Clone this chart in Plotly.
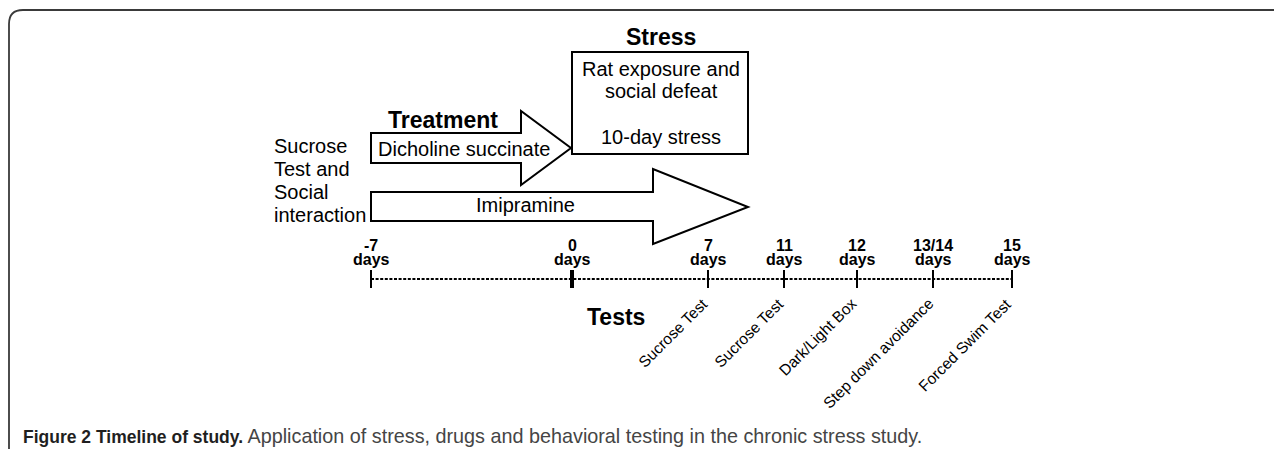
import plotly.graph_objects as go

# ---------------- data (text content) ----------------
tick_numbers = ["-7", "0", "7", "11", "12", "13/14", "15"]
tick_unit = "days"
test_names = ["Sucrose Test", "Sucrose Test", "Dark/Light Box", "Step down avoidance", "Forced Swim Test"]
test_tick_index = [2, 3, 4, 5, 6]
baseline_lines = ["Sucrose", "Test and", "Social", "interaction"]
stress_title = "Stress"
stress_lines = ["Rat exposure and", "social defeat", "10-day stress"]
treatment_title = "Treatment"
drug_short = "Dicholine succinate"
drug_long = "Imipramine"
tests_title = "Tests"
caption_bold = "Figure 2 Timeline of study."
caption_rest = "Application of stress, drugs and behavioral testing in the chronic stress study."

# ---------------- layout (positions in screen pixels) ----------------
W, H = 1282, 449
OFF = 8  # default page margin around the plot div
tick_x = [371, 572, 708, 784, 857, 933, 1012]
line_y = 279
FONT = "Liberation Sans, Arial, sans-serif"

fig = go.Figure()
fig.add_trace(go.Scatter(x=[OFF, W], y=[OFF, H], mode="markers",
                         marker=dict(opacity=0), hoverinfo="skip", showlegend=False))

shapes = []
ann = []

# frame
shapes.append(dict(type="path", path=f"M 9 {H+5} L 9 24 Q 9 10 23 10 L {W+5} 10",
                   line=dict(color="#3a3a3a", width=1.8)))

# timeline dashed line
shapes.append(dict(type="line", x0=tick_x[0], x1=tick_x[-1], y0=line_y, y1=line_y,
                   line=dict(color="black", width=2, dash="3px,1.6px")))
for i, tx in enumerate(tick_x):
    shapes.append(dict(type="line", x0=tx, x1=tx, y0=line_y - 9, y1=line_y + 9,
                       line=dict(color="black", width=4 if tick_numbers[i] == "0" else 2)))
    ann.append(dict(x=tx, y=245, text=f"<b>{tick_numbers[i]}</b>",
                    font=dict(size=16, family=FONT, color="black")))
    ann.append(dict(x=tx, y=259.5, text=f"<b>{tick_unit}</b>",
                    font=dict(size=16, family=FONT, color="black")))

# rotated test labels
for name, idx in zip(test_names, test_tick_index):
    ann.append(dict(x=tick_x[idx] + 6, y=292, text=name, textangle=-45,
                    xanchor="right", yanchor="top",
                    font=dict(size=15.5, family=FONT, color="black")))

ann.append(dict(x=616, y=317, text=f"<b>{tests_title}</b>",
                font=dict(size=23, family=FONT, color="black")))

# treatment arrow (dicholine succinate)
shapes.append(dict(type="path",
                   path="M 371 133 L 521 133 L 521 111 L 571 148 L 521 185 L 521 163 L 371 163 Z",
                   line=dict(color="black", width=2), fillcolor="white"))
# imipramine arrow
shapes.append(dict(type="path",
                   path="M 371 192 L 653 192 L 653 169 L 748 207 L 653 244 L 653 221 L 371 221 Z",
                   line=dict(color="black", width=2), fillcolor="white"))
# stress box
shapes.append(dict(type="rect", x0=572, x1=748, y0=52, y1=154,
                   line=dict(color="black", width=2), fillcolor="white"))

ann.append(dict(x=661, y=37, text=f"<b>{stress_title}</b>",
                font=dict(size=23, family=FONT, color="black")))
for txt, yy in zip(stress_lines, [69, 91, 137]):
    ann.append(dict(x=661, y=yy, text=txt, font=dict(size=20, family=FONT, color="black")))

ann.append(dict(x=386, y=120, text=f"<b>{treatment_title}</b>", xanchor="left",
                font=dict(size=23, family=FONT, color="black")))
ann.append(dict(x=376, y=149, text=drug_short, xanchor="left",
                font=dict(size=20, family=FONT, color="black")))
ann.append(dict(x=525, y=205, text=drug_long,
                font=dict(size=20, family=FONT, color="black")))

for txt, yy in zip(baseline_lines, [146, 168.5, 191.5, 214.5]):
    ann.append(dict(x=272, y=yy, text=txt, xanchor="left",
                    font=dict(size=20, family=FONT, color="black")))

# caption
ann.append(dict(x=21, y=436, xanchor="left",
                text=(f"<b><span style='color:#1f1f1f;font-size:17.5px'>{caption_bold}</span></b>"
                      f" <span style='font-size:19.8px'>{caption_rest}</span>"),
                font=dict(size=19.8, family=FONT, color="#454545")))

for a in ann:
    a.setdefault("showarrow", False)
    a.setdefault("xanchor", "center")
    a.setdefault("yanchor", "middle")
    a["xref"] = "x"
    a["yref"] = "y"
for s in shapes:
    s["xref"] = "x"
    s["yref"] = "y"
    s["layer"] = "above"

fig.update_layout(
    width=W - OFF, height=H - OFF,
    margin=dict(l=0, r=0, t=0, b=0),
    paper_bgcolor="white", plot_bgcolor="white",
    xaxis=dict(range=[OFF, W], visible=False, fixedrange=True),
    yaxis=dict(range=[H, OFF], visible=False, fixedrange=True),
    shapes=shapes, annotations=ann, showlegend=False,
)
fig.write_html("out.html")
